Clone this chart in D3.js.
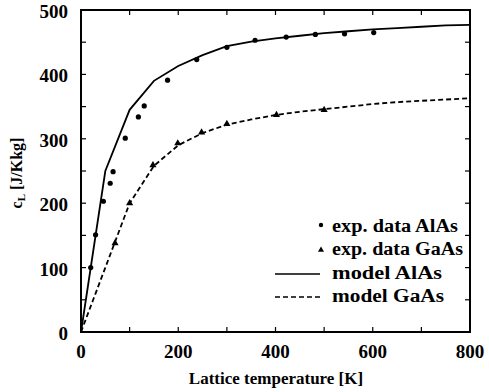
<!DOCTYPE html>
<html><head><meta charset="utf-8">
<script src="https://cdn.jsdelivr.net/npm/d3@7"></script>
<style>body{margin:0;background:#fff}svg{display:block}</style>
</head><body>
<script>
// Data
const alasExpT = [20, 30, 46, 60, 66, 91, 118, 130, 178, 238, 300, 358, 422, 482, 542, 602];
const alasExpC = [100, 151, 203, 231, 249, 301, 334, 351, 391, 423, 442, 453, 458, 462, 463, 465];
const gaasExpT = [70, 100, 148, 199, 248, 300, 402, 500];
const gaasExpC = [138, 200, 259, 293, 310, 323, 337, 345];
const modelT = [0, 25, 50, 100, 150, 200, 250, 300, 350, 400, 450, 500, 550, 600, 650, 700, 750, 800];
const alasModelC = [0, 125, 250, 345, 390, 413, 430, 444, 451, 456, 460, 464, 467, 470, 472, 474, 476, 477];
const gaasModelC = [0, 50, 100, 200, 258, 290, 309, 322, 330, 337, 342, 346, 350, 354, 357, 359, 361, 363];
const xTickLabels = [0, 200, 400, 600, 800];
const yTickLabels = [0, 100, 200, 300, 400, 500];
const legendLabels = ["exp. data AlAs", "exp. data GaAs", "model AlAs", "model GaAs"];

const W = 489, H = 392;
const m = {left: 81, right: 470, top: 10, bottom: 332};
const FONT = '"Liberation Serif"';
const svg = d3.select("body").append("svg").attr("width", W).attr("height", H);
svg.append("rect").attr("width", W).attr("height", H).attr("fill", "#fff");

const x = d3.scaleLinear().domain([0, 800]).range([m.left, m.right]);
const y = d3.scaleLinear().domain([0, 500]).range([m.bottom, m.top]);

// Ticks (inward) on all sides
const tickLen = 5;
const g = svg.append("g").attr("stroke", "#000").attr("stroke-width", 1.2);
d3.range(0, 801, 100).forEach(t => {
  g.append("line").attr("x1", x(t)).attr("x2", x(t)).attr("y1", m.bottom).attr("y2", m.bottom - tickLen);
  g.append("line").attr("x1", x(t)).attr("x2", x(t)).attr("y1", m.top).attr("y2", m.top + tickLen);
});
d3.range(0, 501, 50).forEach(t => {
  g.append("line").attr("x1", m.left).attr("x2", m.left + tickLen).attr("y1", y(t)).attr("y2", y(t));
  g.append("line").attr("x1", m.right).attr("x2", m.right - tickLen).attr("y1", y(t)).attr("y2", y(t));
});
// Frame
svg.append("rect").attr("x", m.left).attr("y", m.top).attr("width", m.right - m.left)
  .attr("height", m.bottom - m.top).attr("fill", "none").attr("stroke", "#000").attr("stroke-width", 2);

// Tick labels
svg.append("g").selectAll("text").data(xTickLabels).join("text")
  .attr("x", d => x(d)).attr("y", 358).attr("text-anchor", "middle")
  .style("font-family", FONT).attr("font-size", 19).attr("font-weight", "bold").text(d => d);
svg.append("g").selectAll("text").data(yTickLabels).join("text")
  .attr("x", 68).attr("y", d => y(d) + 8).attr("text-anchor", "end")
  .style("font-family", FONT).attr("font-size", 19).attr("font-weight", "bold")
  .text(d => d);

// Axis titles
svg.append("text").attr("x", 276).attr("y", 384).attr("text-anchor", "middle")
  .style("font-family", FONT).attr("font-size", 17).attr("font-weight", "bold")
  .text("Lattice temperature [K]");
const yl = svg.append("text").attr("transform", "translate(22,173) rotate(-90)")
  .attr("text-anchor", "middle").style("font-family", FONT).attr("font-size", 16).attr("font-weight", "bold");
yl.append("tspan").text("c");
yl.append("tspan").attr("font-size", 11).attr("dy", 3).text("L");
yl.append("tspan").attr("dy", -3).text(" [J/Kkg]");

// Model lines
const line = d3.line().x(d => x(d[0])).y(d => y(d[1]));
svg.append("path").datum(modelT.map((t, i) => [t, alasModelC[i]])).attr("d", line)
  .attr("fill", "none").attr("stroke", "#000").attr("stroke-width", 1.8);
svg.append("path").datum(modelT.map((t, i) => [t, gaasModelC[i]])).attr("d", line)
  .attr("fill", "none").attr("stroke", "#000").attr("stroke-width", 1.8).attr("stroke-dasharray", "5,3");

// Exp points
svg.append("g").selectAll("circle").data(alasExpT.map((t, i) => [t, alasExpC[i]])).join("circle")
  .attr("cx", d => x(d[0])).attr("cy", d => y(d[1])).attr("r", 2.6).attr("fill", "#000");
const tri = d3.symbol().type(d3.symbolTriangle).size(22);
svg.append("g").selectAll("path").data(gaasExpT.map((t, i) => [t, gaasExpC[i]])).join("path")
  .attr("transform", d => `translate(${x(d[0])},${y(d[1])})`).attr("d", tri).attr("fill", "#000");

// Legend
const lg = svg.append("g");
const rowsY = [227, 250, 274, 297];
const legendWidths = [126, 131, 110, 112];
lg.selectAll("text").data(legendLabels).join("text")
  .attr("x", 332).attr("y", (d, i) => rowsY[i] + 5)
  .attr("textLength", (d, i) => legendWidths[i]).attr("lengthAdjust", "spacingAndGlyphs")
  .style("font-family", FONT).attr("font-size", 18).attr("font-weight", "bold").text(d => d);
lg.append("circle").attr("cx", 321).attr("cy", rowsY[0] - 2).attr("r", 2.2).attr("fill", "#000");
lg.append("path").attr("transform", `translate(321,${rowsY[1]})`).attr("d", d3.symbol().type(d3.symbolTriangle).size(16)).attr("fill", "#000");
lg.append("line").attr("x1", 275).attr("x2", 320).attr("y1", rowsY[2]).attr("y2", rowsY[2])
  .attr("stroke", "#000").attr("stroke-width", 1.3);
lg.append("line").attr("x1", 275).attr("x2", 320).attr("y1", rowsY[3]).attr("y2", rowsY[3])
  .attr("stroke", "#000").attr("stroke-width", 1.3).attr("stroke-dasharray", "5,3");
</script>
</body></html>
